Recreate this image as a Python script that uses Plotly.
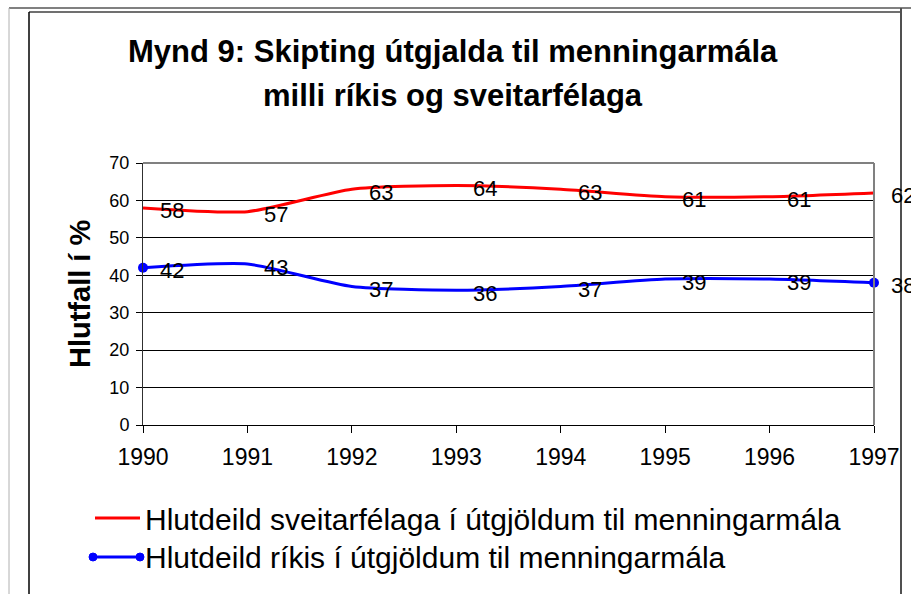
import plotly.graph_objects as go

years = [1990, 1991, 1992, 1993, 1994, 1995, 1996, 1997]
sveitarfelog = [58, 57, 63, 64, 63, 61, 61, 62]
rikid = [42, 43, 37, 36, 37, 39, 39, 38]

red = "#ff0000"
blue = "#0000ff"
FONT = "Arial, Liberation Sans, sans-serif"

W, H = 911, 594
L, R, T, B = 143, 874, 163, 425  # plot area in pixels


def px(x):
    return (x - L) / (R - L)


def py(y):
    return (B - y) / (B - T)


fig = go.Figure()

fig.add_trace(go.Scatter(x=years, y=sveitarfelog, mode="lines",
                         line=dict(color=red, width=3, shape="spline", smoothing=0.6),
                         showlegend=False, hoverinfo="x+y"))
fig.add_trace(go.Scatter(x=years, y=rikid, mode="lines",
                         line=dict(color=blue, width=3, shape="spline", smoothing=0.6),
                         showlegend=False, hoverinfo="x+y"))
# Excel only shows the blue markers at the two ends
fig.add_trace(go.Scatter(x=[years[0], years[-1]], y=[rikid[0], rikid[-1]], mode="markers",
                         marker=dict(color=blue, size=10), showlegend=False,
                         cliponaxis=False, hoverinfo="skip"))

annotations = []
# data labels, right of each point
for series in (sveitarfelog, rikid):
    for yr, v in zip(years, series):
        annotations.append(dict(x=yr, y=v, xref="x", yref="y", text=str(v),
                                showarrow=False, xanchor="left", yanchor="middle",
                                xshift=15, yshift=-3,
                                font=dict(family=FONT, size=22, color="black")))

# title
annotations.append(dict(x=px(453), y=py(52), xref="paper", yref="paper",
                        text="<b>Mynd 9: Skipting útgjalda til menningarmála</b>",
                        showarrow=False, xanchor="center", yanchor="middle",
                        font=dict(family=FONT, size=31, color="black")))
annotations.append(dict(x=px(453), y=py(95), xref="paper", yref="paper",
                        text="<b>milli ríkis og sveitarfélaga</b>",
                        showarrow=False, xanchor="center", yanchor="middle",
                        font=dict(family=FONT, size=31, color="black")))
# y axis title
annotations.append(dict(x=px(80), y=py(294), xref="paper", yref="paper",
                        text="<b>Hlutfall í %</b>", textangle=-90,
                        showarrow=False, xanchor="center", yanchor="middle",
                        font=dict(family=FONT, size=29, color="black")))

# legend (drawn by hand, Excel style)
legend_names = ["Hlutdeild sveitarfélaga í útgjöldum til menningarmála",
                "Hlutdeild ríkis í útgjöldum til menningarmála"]
for name, ypos in zip(legend_names, [519, 557]):
    annotations.append(dict(x=px(143), y=py(ypos), xref="paper", yref="paper",
                            text=name, showarrow=False, xanchor="left", yanchor="middle",
                            font=dict(family=FONT, size=30, color="black")))


def seg(x0, y0, x1, y1, color, width):
    return dict(type="line", xref="paper", yref="paper", layer="above",
                x0=px(x0), x1=px(x1), y0=py(y0), y1=py(y1),
                line=dict(color=color, width=width))


shapes = [
    # legend symbols
    seg(95, 518, 140, 518, red, 3),
    seg(93, 557, 140, 557, blue, 3),
    dict(type="circle", xref="paper", yref="paper", x0=px(89), x1=px(97), y0=py(553), y1=py(561),
         fillcolor=blue, line=dict(color=blue, width=1)),
    dict(type="circle", xref="paper", yref="paper", x0=px(136), x1=px(144), y0=py(553), y1=py(561),
         fillcolor=blue, line=dict(color=blue, width=1)),
    # plot area border (top and right)
    seg(143, 163, 874, 163, "#808080", 2),
    seg(874, 163, 874, 425, "#808080", 2),
    # chart frame
    seg(9, 8, 911, 8, "#808080", 2),
    seg(9, 8, 9, 594, "#b0b0b0", 1),
    seg(29, 12, 901, 12, "#404040", 1.5),
    seg(29, 12, 29, 594, "black", 1.5),
    seg(901, 8, 901, 594, "#505050", 2),
]

fig.update_layout(
    width=W, height=H,
    margin=dict(l=L, r=W - R, t=T, b=H - B, pad=0),
    paper_bgcolor="white", plot_bgcolor="white",
    font=dict(family=FONT, color="black"),
    showlegend=False,
    annotations=annotations,
    shapes=shapes,
    xaxis=dict(range=[years[0], years[-1]], tickvals=years, ticktext=[str(y) for y in years],
               showgrid=False, zeroline=False, showline=True, linecolor="black", linewidth=1,
               ticks="outside", ticklen=7, tickcolor="black", ticklabelstandoff=4,
               tickfont=dict(family=FONT, size=23), fixedrange=True),
    yaxis=dict(range=[0, 70], dtick=10, tick0=0, showgrid=True, gridcolor="black", gridwidth=1,
               zeroline=False, showline=True, linecolor="#303030", linewidth=1,
               ticks="outside", ticklen=6, tickcolor="black", ticklabelstandoff=3,
               tickfont=dict(family=FONT, size=18), fixedrange=True),
)

# drop the default page margin so figure pixels are page pixels
fig.write_html("out.html", config={"displayModeBar": False},
               post_script="document.body.style.margin='0';document.body.style.overflow='hidden';")
